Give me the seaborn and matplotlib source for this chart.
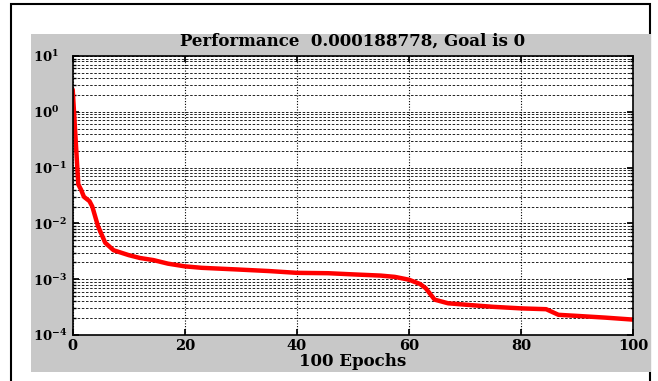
import numpy as np
import pandas as pd
import matplotlib
matplotlib.use("Agg")
import matplotlib.pyplot as plt
import seaborn as sns
from matplotlib.patches import Rectangle
from matplotlib.ticker import FixedLocator, FixedFormatter, LogLocator, NullFormatter

# Data (training performance per epoch)
epochs = [0, 0.5, 1, 1.5, 2, 3, 3.5, 4.5, 5.8, 7.3, 10, 12, 14.4, 17, 20, 23, 29, 35, 40, 45.6, 50, 55, 57.5, 60, 62, 63, 64.6, 67, 70, 75, 80, 84.5, 86.7, 90, 95, 100]
perf = [2.5, 0.35, 0.05, 0.04, 0.03, 0.025, 0.02, 0.009, 0.0045, 0.0033, 0.0027, 0.0024, 0.0022, 0.0019, 0.0017, 0.0016, 0.0015, 0.0014, 0.0013, 0.00128, 0.00122, 0.00116, 0.0011, 0.00098, 0.00082, 0.00069, 0.00043, 0.00037, 0.00035, 0.00032, 0.0003, 0.00029, 0.00023, 0.00022, 0.000205, 0.000188778]
xticks = [0, 20, 40, 60, 80, 100]
yticks = [1e-4, 1e-3, 1e-2, 1e-1, 1e0, 1e1]
ytick_labels = [r"$\mathbf{10^{-4}}$", r"$\mathbf{10^{-3}}$", r"$\mathbf{10^{-2}}$",
                r"$\mathbf{10^{-1}}$", r"$\mathbf{10^{0}}$", r"$\mathbf{10^{1}}$"]
title = "Performance  0.000188778, Goal is 0"
xlabel = "100 Epochs"

sns.set_theme(style="white")
plt.rcParams['font.family'] = ['DejaVu Serif']
plt.rcParams['mathtext.fontset'] = 'custom'
plt.rcParams['mathtext.rm'] = 'DejaVu Serif'
plt.rcParams['mathtext.bf'] = 'DejaVu Serif:bold'
plt.rcParams['text.color'] = 'black'
plt.rcParams['xtick.color'] = 'black'
plt.rcParams['ytick.color'] = 'black'
plt.rcParams['axes.labelcolor'] = 'black'

W, H = 658, 381
fig = plt.figure(figsize=(W / 100, H / 100), dpi=100)
fig.patch.set_facecolor("white")

# outer border
fig.patches.append(Rectangle((11 / W, -0.1), (650 - 11) / W, 1.1 - 4 / H,
                             transform=fig.transFigure, fill=False,
                             edgecolor="black", linewidth=1.5, zorder=0))
# grey panel
fig.patches.append(Rectangle((31 / W, (H - 372) / H), (651 - 31) / W, (372 - 34) / H,
                             transform=fig.transFigure, facecolor="#c8c8c8",
                             edgecolor="none", zorder=1))

ax = fig.add_axes([72.7 / W, (H - 335) / H, (633 - 72.7) / W, (335 - 56) / H])
ax.set_zorder(2)
ax.set_facecolor("white")

df = pd.DataFrame({"epoch": epochs, "perf": perf})
sns.lineplot(data=df, x="epoch", y="perf", ax=ax, color="#ff0000", linewidth=3.2)

ax.set_yscale("log")
ax.set_xlim(0, 100)
ax.set_ylim(1e-4, 1e1)
ax.xaxis.set_major_locator(FixedLocator(xticks))
ax.set_xticklabels([str(t) for t in xticks], fontsize=10.5, fontweight="bold")
ax.yaxis.set_major_locator(FixedLocator(yticks))
ax.yaxis.set_major_formatter(FixedFormatter(ytick_labels))
ax.yaxis.set_minor_locator(LogLocator(base=10, subs=np.arange(2, 10), numticks=20))
ax.yaxis.set_minor_formatter(NullFormatter())

ax.grid(True, which="major", axis="x", color="black", linestyle=(0, (1, 1.5)), linewidth=0.8)
ax.grid(True, which="both", axis="y", color="black", linestyle=(0, (3, 2)), linewidth=0.6)

ax.tick_params(axis="both", which="both", direction="in", top=True, right=True,
               left=True, bottom=True, color="black")
ax.tick_params(axis="both", which="major", length=4)
ax.tick_params(axis="y", which="minor", length=2)
ax.tick_params(axis="x", pad=3)
ax.tick_params(axis="y", pad=(72.7 - 33) * 0.72)
for lbl in ax.get_yticklabels():
    lbl.set_fontsize(9.5)
    lbl.set_horizontalalignment("left")
for s in ax.spines.values():
    s.set_color("black")
    s.set_linewidth(1.2)

ax.set_xlabel(xlabel, fontsize=12, fontweight="bold", labelpad=0)
ax.set_ylabel("")
ax.set_title(title, fontsize=12, fontweight="bold", pad=7.5)

fig.savefig("out.png", dpi=100)
